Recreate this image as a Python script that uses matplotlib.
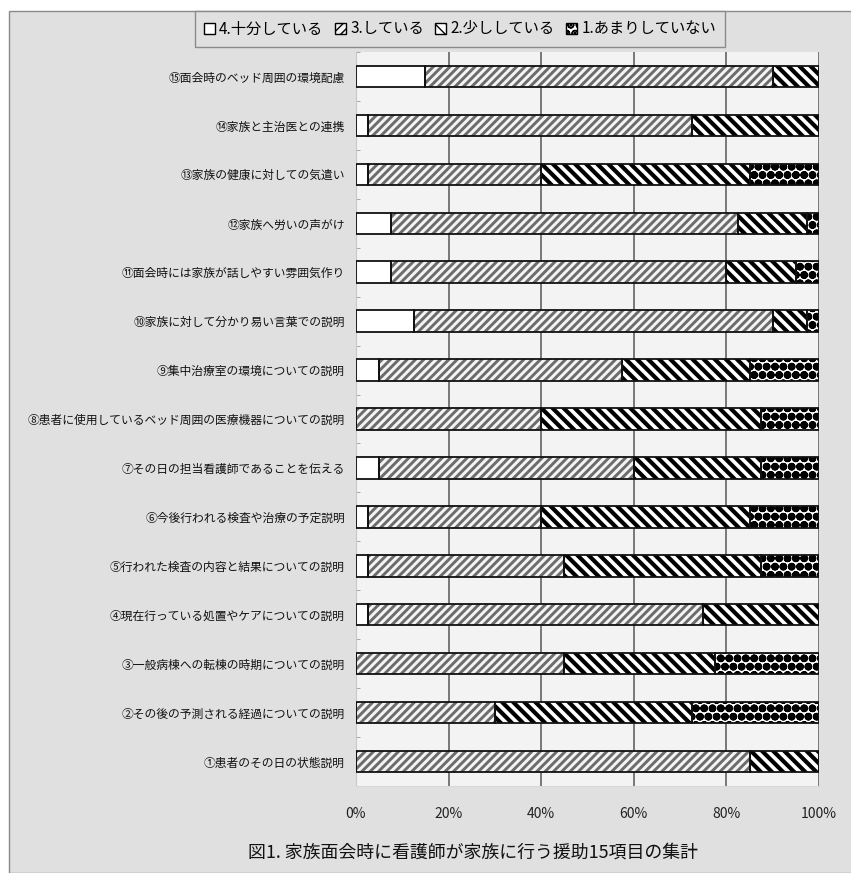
import matplotlib
matplotlib.use('Agg')
import matplotlib.pyplot as plt
from matplotlib.patches import Rectangle, Patch
import numpy as np

plt.rcParams['font.family'] = ['Noto Sans CJK JP', 'DejaVu Sans']

# items, bottom (①) to top (⑮)
items = [
    '①患者のその日の状態説明',
    '②その後の予測される経過についての説明',
    '③一般病棟への転棟の時期についての説明',
    '④現在行っている処置やケアについての説明',
    '⑤行われた検査の内容と結果についての説明',
    '⑥今後行われる検査や治療の予定説明',
    '⑦その日の担当看護師であることを伝える',
    '⑧患者に使用しているベッド周囲の医療機器についての説明',
    '⑨集中治療室の環境についての説明',
    '⑩家族に対して分かり易い言葉での説明',
    '⑪面会時には家族が話しやすい雰囲気作り',
    '⑫家族へ労いの声がけ',
    '⑬家族の健康に対しての気遣い',
    '⑭家族と主治医との連携',
    '⑮面会時のベッド周囲の環境配慮',
]
legend_labels = ['4.十分している', '3.している', '2.少ししている', '1.あまりしていない']

# percentages per item (same order as items)
s4 = [0, 0, 0, 2.5, 2.5, 2.5, 5, 0, 5, 12.5, 7.5, 7.5, 2.5, 2.5, 15]
s3 = [85, 30, 45, 72.5, 42.5, 37.5, 55, 40, 52.5, 77.5, 72.5, 75, 37.5, 70, 75]
s2 = [15, 42.5, 32.5, 25, 42.5, 45, 27.5, 47.5, 27.5, 7.5, 15, 15, 45, 27.5, 10]
s1 = [0, 27.5, 22.5, 0, 12.5, 15, 12.5, 12.5, 15, 2.5, 5, 2.5, 15, 0, 0]

xticks = [0, 20, 40, 60, 80, 100]
xticklabels = ['0%', '20%', '40%', '60%', '80%', '100%']
title = '図1. 家族面会時に看護師が家族に行う援助15項目の集計'

W, H = 851, 873
fig = plt.figure(figsize=(W / 100, H / 100), dpi=100)
fig.patch.set_facecolor('white')
fig.patches.append(Rectangle((9 / W, 0), 1 - 9 / W + 0.01, 1 - 11 / H, transform=fig.transFigure,
                             facecolor='#e0e0e0', edgecolor='#8a8a8a', linewidth=1.0, zorder=-10))

ax = fig.add_axes([356 / W, 1 - 786 / H, 463 / W, 734 / H])
ax.set_zorder(1)
ax.set_facecolor('#f3f3f3')

y = np.arange(len(items))
bh = 0.44

styles = [
    # facecolor, hatch, hatch colour, hatch linewidth
    ('white', None, 'white', 1.0),
    ('#f4f4f4', '////', '#6c6c6c', 2.1),
    ('white', '\\\\\\', 'black', 3.0),
    ('white', 'OO..', 'black', 1.4),
]

left = np.zeros(len(items))
for vals, (fc, hatch, hc, hlw) in zip([s4, s3, s2, s1], styles):
    vals = np.array(vals, dtype=float)
    # hatch linewidth is picked up when the bars are made
    plt.rcParams['hatch.linewidth'] = hlw
    ax.barh(y, vals, left=left, height=bh, color=fc, edgecolor=hc,
            hatch=hatch, linewidth=0, zorder=2)
    ax.barh(y, vals, left=left, height=bh, fill=False, edgecolor='#111111',
            linewidth=1.3, zorder=3)
    left += vals

ax.set_xlim(0, 100)
ax.set_ylim(-0.5, len(items) - 0.5)
ax.set_xticks(xticks)
ax.set_xticklabels(xticklabels, fontsize=10, color='#222222')
ax.set_yticks(y)
ax.set_yticklabels(items, fontsize=8.5, color='#111111')
ax.tick_params(axis='both', length=0)
ax.tick_params(axis='x', pad=15)
ax.tick_params(axis='y', pad=8)
ax.set_yticks(np.arange(len(items) + 1) - 0.5, minor=True)
ax.tick_params(axis='y', which='minor', direction='in', length=3, color='#999999')

ax.grid(axis='x', color='#777777', linewidth=1.4, zorder=1)
ax.set_axisbelow(True)
for s in ['top', 'right']:
    ax.spines[s].set_visible(False)
ax.spines['left'].set_color('#c8c8c8')
ax.spines['bottom'].set_color('#d8d8d8')

plt.rcParams['hatch.linewidth'] = 1.0
handles = []
for fc, hatch, hc, hlw in styles:
    handles.append(Patch(facecolor=fc, hatch=hatch, edgecolor='black', linewidth=1.0))
leg = fig.legend(handles, legend_labels, loc='center', bbox_to_anchor=(460 / W, 1 - 29 / H),
                 ncol=4, fontsize=11, frameon=True, fancybox=False, handlelength=0.7,
                 handleheight=0.7, handletextpad=0.3, columnspacing=0.75, borderpad=0.6,
                 borderaxespad=0)
leg.get_frame().set_facecolor('#e0e0e0')
leg.get_frame().set_edgecolor('#8a8a8a')
leg.get_frame().set_linewidth(1.0)
leg.get_frame().set_alpha(1)

fig.text(473 / W, 1 - 853 / H, title, fontsize=12.9, ha='center', va='center', color='#111111')

fig.savefig('out.png', dpi=100)
